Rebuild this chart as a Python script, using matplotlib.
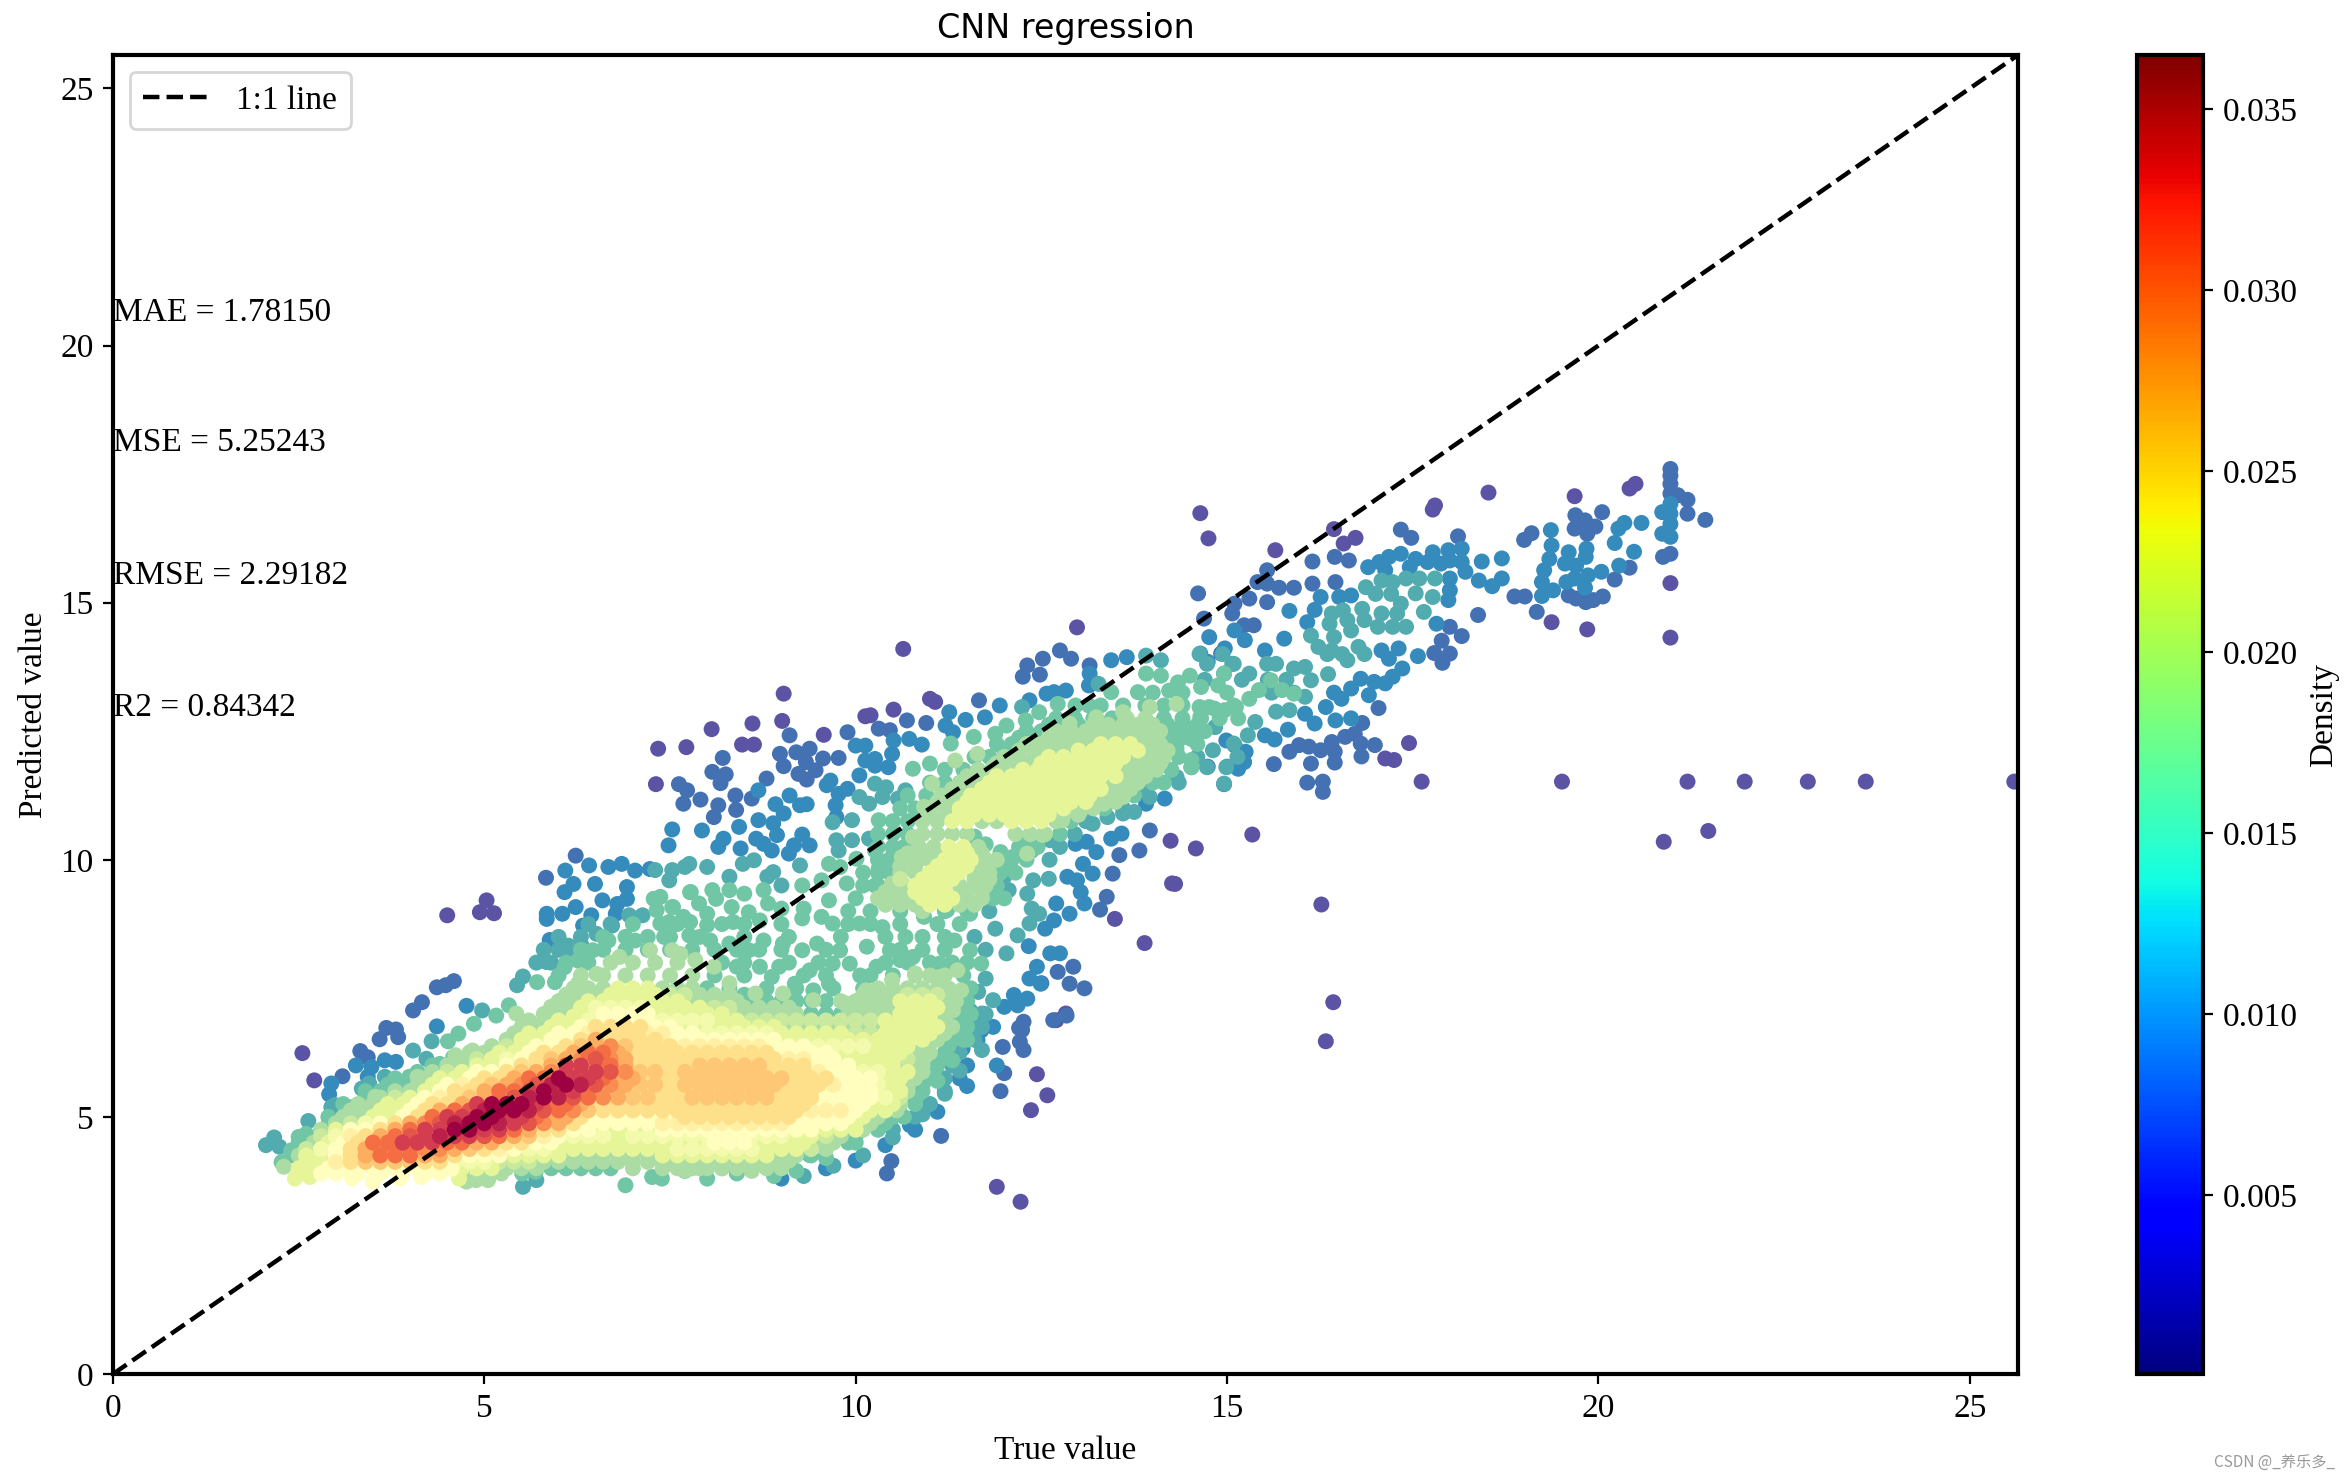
#!/usr/bin/env python3
"""CNN regression: true vs predicted scatter, coloured by density."""

import numpy as np
import matplotlib
matplotlib.use("Agg")
import matplotlib.pyplot as plt
from matplotlib.cm import ScalarMappable
from matplotlib.colors import Normalize

# ── Data, one list per density level ──
DENS_MIN = 0.00005
DENS_MAX = 0.0365

# 0-12 run low to high, 13-19 are the in-between shades
level_density = [0.0004, 0.0022, 0.0040, 0.0060, 0.0080, 0.0110, 0.0146, 0.0183, 0.0220, 0.0256, 0.0293, 0.0329, 0.0366,
                 0.0238, 0.0165, 0.0128, 0.0201, 0.0275, 0.0311, 0.0347]

pts_0 = [(25.6,11.52),(23.6,11.52),(22.82,11.52),(21.97,11.52),(21.2,11.52),(19.51,11.52),(17.62,11.52),(21.48,10.56),(20.88,10.35),
    (15.34,10.49),(20.97,14.32),(20.97,15.38),(19.85,14.48),(19.37,14.62),(18.52,17.14),(19.68,17.07),(20.42,17.22),(20.5,17.31),
    (17.8,16.89),(17.77,16.81),(14.64,16.74),(14.75,16.25),(15.65,16.02),(16.44,16.43),(16.73,16.26),(16.57,16.15),(17.45,12.27),
    (17.25,11.94),(17.13,11.97),(16.27,9.13),(16.43,7.23),(16.33,6.47),(14.3,9.53),(13.89,8.38),(14.58,10.22),(14.26,9.54),(14.24,10.37),
    (11.9,3.64),(12.22,3.35),(12.44,5.83),(12.58,5.42),(12.36,5.13),(4.5,8.92),(5.03,9.21),(4.94,8.98),(5.13,8.96),(2.55,6.24),(9.03,13.23),
    (10.64,14.1),(12.98,14.52),(7.34,12.16),(7.72,12.19),(8.06,12.54),(8.61,12.65),(8.47,12.24),(8.63,12.24),(9.01,12.7),(9.57,12.43),
    (11.0,13.13),(11.07,13.07),(10.51,12.92),(10.13,12.79),(10.2,12.81),(7.31,11.47),(2.71,5.71),(13.49,8.85),(12.7,6.88),(12.83,7.01)]

pts_1 = [(20.97,17.6),(20.97,17.47),(20.97,17.31),(20.97,17.12),(20.97,15.95),(20.87,15.89),(21.2,17.0),(21.07,17.09),(21.2,16.73),(21.44,16.61),
    (19.69,16.7),(19.82,16.6),(19.96,16.48),(19.68,16.44),(19.85,16.34),(19.1,16.35),(19.0,16.22),(19.6,15.14),(19.7,15.08),(19.83,15.01),
    (19.93,15.05),(20.06,15.12),(19.17,14.82),(19.01,15.12),(18.87,15.12),(18.38,14.76),(20.05,16.76),(20.22,15.45),(20.42,15.68),
    (17.34,16.42),(17.48,16.26),(18.11,16.29),(16.15,15.8),(16.45,15.89),(16.64,15.82),(15.41,15.4),(15.54,15.63),(15.54,15.37),(15.7,15.29),
    (15.9,15.29),(15.54,15.01),(15.3,15.08),(15.1,14.98),(15.07,14.79),(15.36,14.56),(15.23,14.56),(14.61,15.18),(14.69,14.69),(14.92,14.01),
    (16.15,15.37),(16.46,15.4),(18.0,14.53),(18.16,14.35),(17.89,14.26),(17.79,14.02),(18.0,14.01),(17.9,13.83),(17.04,12.95),(16.82,12.66),
    (16.72,12.45),(16.59,12.39),(16.41,12.29),(16.8,12.26),(16.99,12.23),(16.45,12.1),(16.81,12.01),(16.45,11.89),(16.13,11.87),(16.26,12.13),
    (16.1,12.2),(15.97,12.23),(15.84,12.1),(16.29,11.32),(16.29,11.52),(16.08,11.5),(14.96,11.47),(15.63,11.86),(14.74,11.81),
    (8.21,11.98),(9.11,12.42),(9.89,12.48),(8.98,12.06),(9.2,12.09),(9.38,12.16),(9.03,11.82),(9.33,11.9),(9.56,11.97),(9.77,11.98),(8.07,11.71),
    (8.25,11.66),(8.18,11.49),(7.62,11.47),(7.73,11.35),(8.8,11.58),(9.23,11.67),(9.34,11.56),(9.46,11.74),(8.38,11.25),(8.6,11.19),(7.91,11.17),
    (7.68,11.09),(8.15,11.06),(8.09,10.83),(8.39,10.97),(10.31,12.55),(10.46,12.52),(10.69,12.71),(10.95,12.66),(11.66,13.1),(12.31,13.78),
    (12.52,13.91),(12.25,13.56),(12.48,13.6),(12.75,14.07),(12.9,13.91),(13.15,13.78),(4.59,7.64),(4.48,7.56),(4.36,7.52),(4.16,7.23),(4.04,7.07),
    (3.68,6.73),(3.81,6.7),(3.84,6.55),(3.59,6.51),(3.33,6.28),(3.43,6.16),(3.09,5.79),(5.83,9.65),(6.23,10.08),(12.26,6.85),(12.24,6.69),(12.21,6.46),
    (11.98,6.36),(13.08,7.5),(12.88,7.59),(12.93,7.92),(13.29,9.03),(13.38,9.28),(13.46,9.73),(13.55,10.09),(13.82,10.18),(13.96,10.57),(12.72,7.82),
    (11.15,4.63),(10.42,3.9),(10.48,4.14),(12.26,6.3),(12.2,6.73),(12.66,6.88),(12.84,6.97),(12.5,7.6),(11.95,5.5),(12.0,5.85)]

pts_2 = [(20.97,16.92),(20.97,16.73),(20.97,16.53),(20.97,16.28),(20.86,16.34),(20.86,16.76),(20.58,16.55),(20.35,16.55),(20.27,16.44),(20.22,16.16),
    (20.48,15.99),(20.28,15.72),(19.84,16.05),(19.83,15.89),(19.7,15.72),(19.86,15.53),(19.68,15.47),(19.57,15.4),(19.82,15.29),(20.04,15.6),(19.55,15.76),
    (19.6,15.98),(19.37,16.11),(19.36,16.41),(19.34,15.85),(19.27,15.63),(19.24,15.4),(19.39,15.24),(19.24,15.13),(18.7,15.47),(18.57,15.32),(18.7,15.86),
    (18.43,15.8),(18.39,15.43),(18.16,16.05),(17.98,16.02),(17.77,15.98),(18.16,15.79),(18.21,15.6),(18.0,15.82),(17.88,15.76),(17.7,15.79),(17.54,15.85),
    (17.34,15.95),(17.18,15.89),(17.05,15.79),(16.9,15.69),(17.13,15.63),(17.46,15.69),(18.0,15.47),(18.0,15.24),(17.98,15.05),(16.67,15.14),(16.51,15.11),
    (16.26,15.11),(16.18,14.86),(16.08,14.62),(15.84,14.84),(15.77,14.3),(15.51,14.07),(14.76,14.33),(14.97,14.11),(14.64,14.01),(14.74,13.85),(15.1,14.46),
    (15.24,14.27),(14.96,13.62),(17.82,14.59),(17.57,13.96),(17.31,14.11),(17.08,14.07),(17.18,13.91),(17.36,13.72),(17.23,13.56),(17.13,13.43),(16.98,13.46),
    (16.8,13.52),(16.67,13.33),(16.91,13.2),(16.54,13.13),(16.44,13.25),(16.67,12.75),(16.46,12.71),(16.33,12.97),(16.18,12.65),(16.05,12.84),(15.82,12.53),
    (15.64,12.34),(15.25,12.1),(15.23,11.9),(15.15,11.77),(15.0,11.81),(15.1,12.23),(14.99,12.32),(15.51,12.42),
    (8.69,11.35),(8.92,11.08),(9.03,10.9),(9.11,11.25),(9.25,11.06),(9.34,11.08),(9.61,11.45),(9.66,11.54),(9.89,11.38),(9.77,11.28),(9.73,11.06),(9.74,10.83),
    (7.53,10.59),(7.48,10.28),(7.93,10.57),(8.43,10.64),(8.69,10.77),(8.89,10.71),(8.22,10.41),(8.66,10.41),(8.94,10.48),(9.28,10.49),(9.17,10.28),(9.38,10.28),
    (9.1,10.12),(8.87,10.18),(8.76,10.31),(8.45,10.22),(8.15,10.25),(10.05,11.64),(10.26,11.83),(10.13,11.93),(10.49,12.06),(10.51,12.32),(10.26,11.96),(10.13,12.22),
    (10.0,12.22),(10.44,11.8),(10.72,12.35),(10.89,12.24),(11.26,12.87),(11.21,12.61),(11.31,12.48),(11.94,13.0),(11.48,12.72),(11.74,12.77),(13.15,13.62),(13.44,13.88),
    (13.65,13.94),(12.67,13.26),(12.83,13.29),(12.57,13.23),(12.34,13.1),(13.14,13.39),(13.08,9.15),(12.88,8.95),(12.67,8.82),(12.55,8.66),(12.7,9.15),(13.03,9.37),
    (12.98,9.6),(12.85,9.67),(13.19,9.73),(13.06,9.92),(13.24,10.15),(13.11,10.35),(12.96,10.31),(13.44,10.41),(13.58,10.51),(14.16,11.19),(13.91,11.09),
    (12.62,8.18),(12.75,8.18),(12.44,7.92),(12.34,7.69),(12.49,7.59),(12.33,8.32),(11.85,6.75),(11.64,6.49),(11.44,6.33),(12.0,7.14),(12.18,7.17),(12.31,7.3),(12.13,7.37),
    (2.94,5.65),(2.91,5.44),(3.27,6.0),(3.48,5.97),(3.66,6.1),(3.43,5.78),(3.81,6.07),(4.36,6.76),(4.76,7.16),(5.88,8.44),(5.84,8.95),(5.84,8.85),(6.05,8.95),(6.33,8.72),
    (6.23,9.08),(6.08,9.37),(6.2,9.53),(6.09,9.79),(6.41,9.89),(6.49,9.53),(6.67,9.86),(6.85,9.92),(7.03,9.79),(7.23,9.82),(6.79,9.14),(6.59,9.21),(6.92,9.24),(6.44,8.92),
    (6.77,8.95),(6.92,9.47),(9.0,3.8),(9.6,4.0),(10.0,4.15),(10.4,4.45),(10.8,4.75),(11.1,5.1),(11.5,5.6),(11.9,6.0),(10.73,4.84),(10.58,5.19),(10.89,5.71),(11.35,6.3),(11.69,6.68)]

pts_3 = [(16.62,14.66),(16.85,14.66),(17.03,14.53),(17.41,14.53),(17.23,14.53),(17.29,14.79),(17.08,14.79),(16.82,14.88),(16.56,14.85),(16.41,14.79),(16.38,14.59),
    (17.65,14.82),(17.34,14.98),(17.54,15.18),(17.21,15.17),(17.0,15.17),(16.87,15.3),(17.23,15.4),(17.08,15.43),(17.41,15.47),(17.59,15.47),(17.8,15.47),(17.77,15.11),
    (16.67,14.46),(16.77,14.14),(16.62,13.88),(16.41,14.07),(16.23,14.14),(16.13,14.36),(16.44,14.33),(16.36,13.61),(16.05,13.75),(15.9,13.72),(15.66,13.81),(15.54,13.81),
    (15.07,13.81),(15.3,13.62),(16.13,13.49),(16.05,13.17),(15.84,12.91),(15.66,12.88),(15.38,12.68),(15.28,12.42),(14.84,12.58),(14.81,12.13),(15.09,12.26),(15.14,12.0),
    (14.99,11.8),(14.73,11.8),(14.52,11.8),(14.96,11.48),(14.32,11.61),(13.96,11.22),(13.8,11.38),(13.91,11.51),(13.75,10.93),(13.6,10.9),(13.39,10.83),(13.19,10.7),
    (12.62,10.38),(12.37,10.18),(12.61,10.0),(12.6,9.63),(12.39,9.6),(12.31,9.34),(12.37,9.05),(12.47,8.95),(12.34,8.76),(12.18,8.53),(11.88,8.66),(12.03,8.18),(12.0,9.67),
    (12.06,9.41),(11.75,9.54),(11.85,7.27),(11.7,7.01),(11.54,7.07),(11.59,6.75),(11.65,7.43),(11.75,7.69),
    (14.63,14.0),(14.94,14.0),(14.73,13.81),(15.09,13.81),(13.91,13.97),(14.11,13.88),(13.27,13.42),(12.24,12.97),
    (9.69,10.73),(9.74,10.38),(9.77,10.18),(9.25,9.89),(7.3,9.8),(7.53,9.8),(7.76,9.92),(8.0,9.86),(8.3,9.67),(8.48,9.92),(8.63,9.99),(8.89,9.76),(8.81,9.67),(9.0,9.5),
    (7.49,9.6),(7.7,9.86),(9.95,10.77),(10.05,11.22),(10.18,11.09),(10.36,11.22),(10.57,11.19),(10.67,11.35),(10.26,11.48),(10.41,11.41),(9.95,10.38),(10.18,10.41),
    (2.17,4.6),(2.06,4.45),(2.24,4.42),(2.63,4.92),(2.99,5.23),(2.94,5.19),(3.35,5.55),(3.45,5.65),(3.66,5.78),(4.04,6.29),(4.29,6.47),(4.97,7.07),(5.52,7.73),(5.44,7.56),
    (5.84,8.01),(6.13,8.33),(6.31,8.33),(6.15,8.17),(6.51,8.56),(6.72,8.72),(6.95,8.92),(7.13,8.92),(5.52,3.64),(5.7,3.77),(4.22,6.13),(9.38,4.26),(9.3,3.85),(9.7,4.05),
    (10.1,4.25),(10.5,4.6),(10.9,5.05),(11.2,5.45),(11.4,5.9),(11.7,6.3)]

pts_4 = [(15.9,13.23),(15.74,13.3),(15.59,13.49),(15.43,13.3),(15.3,13.13),(15.12,12.97),(14.97,12.91),(14.76,12.97),(14.64,12.78),(14.52,11.94),(14.52,11.8),
    (10.77,11.77),(11.0,11.87),(11.28,12.26),(11.59,12.39),(11.88,12.45),(12.03,12.61),(12.29,12.71),(12.47,12.87),(12.72,13.03),(12.96,13.0),(13.14,13.0),(13.44,13.26),
    (13.8,13.26),(14.22,13.29),(14.34,13.45),(14.5,13.58),(14.65,13.36),(14.88,13.39),(14.96,13.62),(15.09,13.0),(14.83,12.94),(14.63,12.97),(13.91,13.62),(14.11,13.58),
    (10.51,10.18),(10.26,10.18),(10.01,10.02),(9.79,9.86),(9.64,9.92),(9.54,9.6),(10.31,10.77),(10.31,9.83),(9.88,9.54),(10.26,9.5),(9.28,9.5),(8.76,9.41),(8.5,9.34),
    (8.3,9.41),(8.07,9.41),(7.78,9.37),(7.37,9.28),(8.12,9.24),(7.89,9.15),(7.53,9.08),(7.32,9.02),(7.68,8.89),(8.0,8.95),(8.33,9.08),(8.56,8.98),(8.82,9.15),(9.0,9.05),
    (9.3,9.05),(9.64,9.21),(7.37,8.76),(8.0,8.73),(8.35,8.79),(8.71,8.82),(9.28,8.86),(9.54,8.89),(9.69,8.76),(10.05,8.76),(10.36,8.69),(10.67,8.5),(10.92,8.89),(11.23,9.02),
    (11.54,8.95),(11.69,7.98),(11.33,8.43),(11.54,8.24),(10.15,8.31),(10.46,8.24),(10.77,8.11),(9.79,8.24),(9.92,7.98),(9.69,7.98),(9.48,8.37),(9.28,8.24),(9.02,8.37),
    (8.76,8.43),(8.56,8.24),(8.4,7.92),(8.71,7.92),(8.97,7.92),(9.38,7.85),(9.64,7.59),(9.43,7.46),(9.18,7.59),(8.87,7.72),(10.06,7.75),(10.28,7.92),(10.6,8.05),(11.13,7.98),
    (7.76,8.53),(8.04,8.43),(8.3,8.37),(7.42,8.5),(12.37,10.18),(12.0,9.92),(11.72,9.67),(14.42,12.61),(14.52,12.35),(14.32,12.16),
    (2.5,4.61),(2.6,4.67),(2.27,4.12),(2.4,4.35),(2.91,4.9),(3.22,5.19),(3.48,5.39),(3.73,5.58),(3.99,5.78),(4.4,6.03),(4.58,6.16),(4.51,6.47),(4.65,6.62),(4.86,6.81),(5.16,6.97),
    (5.33,7.17),(5.71,7.62),(5.95,7.62),(6.08,7.91),(6.26,8.04),(6.46,8.24),(6.67,8.43),(7.03,8.43),(7.28,9.24),(7.54,9.08),(7.77,9.37),(7.49,8.79),(7.77,8.79),
    (6.9,3.67),(5.95,4.06),(6.08,4.09),(6.2,4.16),(6.54,4.16),(5.51,3.9),(5.69,3.93),(7.26,3.83),(7.39,3.8),(7.7,3.95),(8.0,3.8),(8.4,3.9),(8.9,3.85),
    (9.2,3.95),(9.6,4.2),(10.0,4.5),(10.4,4.9),(10.8,5.3),(11.1,5.7),(11.3,6.1),(11.5,6.5),(11.9,9.95),(12.1,10.05),(11.6,10.45),(12.25,10.4),(11.95,10.15),(11.75,10.3)]

pts_5 = [(11.34,11.93),(11.64,12.06),(12.36,12.26),(12.62,12.45),(12.88,12.65),(13.24,12.77),(13.6,12.87),(13.96,12.97),(14.32,13.03),(14.06,11.93),(13.86,11.61),(13.6,11.22),
    (13.34,11.09),(13.03,10.96),(12.78,10.77),(12.52,10.48),(12.31,10.12),(11.42,9.41),(10.8,9.15),(10.49,9.54),(11.03,11.48),(10.92,11.03),(10.77,10.44),(10.62,10.05),
    (11.23,11.03),(11.54,11.61),(11.85,11.8),(12.16,11.93),(7.53,8.24),(7.84,8.05),(8.09,7.92),(8.3,7.6),(8.65,7.4),(9.02,7.4),(9.43,7.27),(9.88,7.2),(10.14,7.46),(10.49,7.66),
    (10.8,7.79),(11.13,7.72),(11.37,7.85),(11.42,7.46),(11.31,7.07),(2.3,4.03),(2.6,4.35),(3.17,5.0),(3.53,5.39),(4.1,5.78),(4.61,6.2),(4.84,6.29),(5.43,7.01),(5.9,7.14),
    (6.26,7.59),(6.51,7.78),(6.82,8.11),(7.23,8.24),(7.64,8.17),(4.76,3.74),(4.89,3.77),(5.05,3.77),(5.23,3.9),(5.51,4.03),(6.92,4.22),(7.7,3.96),(6.31,4.29),(6.72,4.42),
    (7.13,4.35),(7.44,4.16),(7.9,4.0),(8.2,4.0),(8.6,3.95),(9.1,4.15),(9.4,4.4),(9.8,4.7),(10.2,5.2),(10.6,5.7),(10.9,6.2),(11.2,6.8)]

pts_6 = [(2.45,3.8),(2.65,3.83),(4.66,3.8)]

pts_7 = [(2.96,3.96),(3.22,3.8),(3.5,3.74),(3.86,3.8),(4.15,3.83),(4.56,3.99)]

levels = [pts_0, pts_1, pts_2, pts_3, pts_4, pts_5, pts_6, pts_7]

# dense part of the cloud, read row by row: (y, level, x values)
rows_low = [
    (3.9,7,[2.8,3.0,3.3,3.6,3.9,4.2,4.4]),(3.9,5,[4.7,5.0]),
    (4.0,6,[2.5,2.7]),(4.0,7,[2.9,3.1,3.3,3.5,3.7,3.9,4.1,4.3,4.5]),(4.0,6,[4.7,4.9,5.1]),(4.0,5,[5.3,5.5,5.7]),(4.0,4,[5.9,6.1,6.3,6.5,6.7]),(4.0,5,[7.0,7.4,7.6,7.8,8.0,8.2,8.4,8.6,8.8,9.0]),
    (4.25,4,[2.4]),(4.25,5,[2.5]),(4.25,6,[2.6,2.8]),(4.25,7,[3.0]),(4.25,8,[3.2]),(4.25,9,[3.4]),(4.25,10,[3.6,3.8,4.0]),(4.25,9,[4.2,4.4]),(4.25,8,[4.6]),(4.25,7,[4.8,5.0,5.2]),(4.25,6,[5.4,5.6,5.8,6.0]),(4.25,5,[6.2,6.4,6.6,6.8,7.0,7.2]),(4.25,6,[7.4,7.6,7.8,8.0,8.2,8.4,8.6,8.8]),(4.25,5,[9.0,9.2]),(4.25,4,[9.4]),
    (4.5,4,[2.5]),(4.5,5,[2.7]),(4.5,6,[2.9]),(4.5,7,[3.1]),(4.5,8,[3.3]),(4.5,10,[3.5,3.7]),(4.5,11,[3.9,4.1,4.3]),(4.5,10,[4.5,4.7]),(4.5,9,[4.9,5.1]),(4.5,8,[5.3,5.5]),(4.5,7,[5.7,5.9]),(4.5,6,[6.1,6.3,6.5,6.7,6.9,7.1,7.3,7.5,7.7,7.9]),(4.5,7,[8.1,8.3,8.5]),(4.5,6,[8.7,8.9,9.1,9.3]),(4.5,5,[9.5,9.7]),(4.5,4,[9.9]),
    (4.75,5,[2.8]),(4.75,6,[3.0]),(4.75,7,[3.2,3.4]),(4.75,8,[3.6]),(4.75,9,[3.8]),(4.75,10,[4.0]),(4.75,11,[4.2,4.4]),(4.75,12,[4.6,4.8]),(4.75,11,[5.0,5.2]),(4.75,10,[5.4]),(4.75,9,[5.6]),(4.75,8,[5.8,6.0]),(4.75,7,[6.2,6.4]),(4.75,6,[6.6,6.8,7.0,7.2]),(4.75,7,[7.4,7.6,7.8,8.0,8.2,8.4,8.6,8.8,9.0,9.2,9.4]),(4.75,6,[9.6,9.8,10.0]),(4.75,5,[10.1]),(4.75,4,[10.3]),(4.75,3,[10.5]),
    (5.0,4,[2.9]),(5.0,5,[3.1,3.3]),(5.0,6,[3.5,3.7]),(5.0,7,[3.9]),(5.0,8,[4.1]),(5.0,10,[4.3]),(5.0,11,[4.5,4.7]),(5.0,12,[4.9,5.1]),(5.0,11,[5.3,5.5]),(5.0,10,[5.7]),(5.0,9,[5.9,6.1]),(5.0,8,[6.3]),(5.0,7,[6.5,6.7,6.9,7.1,7.3,7.5]),(5.0,8,[7.7,7.9,8.1,8.3,8.5,8.7,8.9,9.1]),(5.0,7,[9.3,9.5,9.7,9.9]),(5.0,6,[10.1]),(5.0,5,[10.3]),(5.0,4,[10.5,10.65]),(5.0,3,[10.8]),
    (5.25,4,[3.1]),(5.25,5,[3.3,3.5]),(5.25,6,[3.7,3.9]),(5.25,7,[4.1]),(5.25,8,[4.3,4.5]),(5.25,9,[4.7]),(5.25,11,[4.9]),(5.25,12,[5.1,5.3,5.5]),(5.25,11,[5.7]),(5.25,10,[5.9,6.1]),(5.25,9,[6.3]),(5.25,8,[6.5,6.7,6.9,7.1,7.3,7.5,7.7,7.9,8.1,8.3,8.5,8.7,8.9,9.1,9.3]),(5.25,7,[9.5,9.7,9.9,10.1]),(5.25,6,[10.3,10.5]),(5.25,5,[10.6]),(5.25,4,[10.8]),(5.25,3,[11.0]),
    (5.5,4,[3.4,3.6]),(5.5,5,[3.8,4.0]),(5.5,6,[4.2]),(5.5,7,[4.4]),(5.5,8,[4.6,4.8]),(5.5,9,[5.0]),(5.5,10,[5.2,5.4]),(5.5,11,[5.6]),(5.5,12,[5.8]),(5.5,11,[6.0,6.2]),(5.5,10,[6.4]),(5.5,9,[6.6,6.8]),(5.5,8,[7.0,7.2,7.4,7.6,7.8]),(5.5,13,[8.0,8.2,8.4,8.6,8.8]),(5.5,8,[9.0,9.2,9.4]),(5.5,7,[9.6,9.8,10.0,10.2]),(5.5,6,[10.4,10.6]),(5.5,5,[10.7]),(5.5,4,[10.9]),(5.5,3,[11.2]),
    (5.75,4,[3.8,4.0]),(5.75,5,[4.2]),(5.75,6,[4.4,4.6]),(5.75,7,[4.8]),(5.75,8,[5.0,5.2]),(5.75,9,[5.4]),(5.75,10,[5.6,5.8]),(5.75,12,[6.0]),(5.75,11,[6.2,6.4]),(5.75,10,[6.6]),(5.75,9,[6.8,7.0]),(5.75,8,[7.2,7.4,7.6]),(5.75,13,[7.8,8.0,8.2,8.4,8.6,8.8,9.0]),(5.75,8,[9.2,9.4,9.6]),(5.75,7,[9.8,10.0,10.2]),(5.75,6,[10.4,10.6]),(5.75,5,[10.8]),(5.75,4,[11.0]),(5.75,3,[11.2]),(5.75,2,[11.4]),
    (6.0,4,[4.3]),(6.0,5,[4.5,4.7]),(6.0,6,[4.9,5.1]),(6.0,7,[5.3]),(6.0,8,[5.5,5.7]),(6.0,9,[5.9]),(6.0,11,[6.1,6.3]),(6.0,10,[6.5,6.7]),(6.0,9,[6.9]),(6.0,8,[7.1,7.3,7.5,7.7]),(6.0,13,[7.9,8.1,8.3,8.5,8.7]),(6.0,8,[8.9,9.1,9.3]),(6.0,7,[9.5,9.7,9.9]),(6.0,6,[10.1,10.3,10.5]),(6.0,5,[10.7,10.9]),(6.0,4,[11.1]),(6.0,3,[11.3]),(6.0,2,[11.5]),
]

rows_high = [
    (6.25,5,[4.8,5.0]),(6.25,6,[5.2,5.4]),(6.25,7,[5.6]),(6.25,8,[5.8,6.0]),(6.25,9,[6.2]),(6.25,10,[6.4,6.6]),(6.25,9,[6.8]),(6.25,8,[7.0,7.2,7.4,7.6,7.8,8.0,8.2,8.4,8.6,8.8]),(6.25,7,[9.0,9.2,9.4,9.6]),(6.25,6,[9.8,10.0,10.2,10.4,10.6]),(6.25,5,[10.8,11.0]),(6.25,4,[11.2]),(6.25,3,[11.4]),
    (6.5,5,[5.3]),(6.5,6,[5.5,5.7]),(6.5,7,[5.9,6.1]),(6.5,8,[6.3]),(6.5,9,[6.5]),(6.5,8,[6.7,6.9,7.1,7.3]),(6.5,7,[7.5,7.7,7.9,8.1,8.3,8.5,8.7,8.9]),(6.5,6,[9.1,9.3,9.5,9.7,9.9,10.1,10.3,10.5,10.7,10.9]),(6.5,5,[11.1]),(6.5,4,[11.3,11.45]),(6.5,3,[11.6]),
    (6.75,5,[5.5,5.7]),(6.75,6,[5.9,6.1]),(6.75,7,[6.3]),(6.75,8,[6.5,6.7,6.9,7.1]),(6.75,7,[7.3,7.5]),(6.75,6,[7.7,7.9,8.1,8.3,8.5,8.7,8.9]),(6.75,5,[9.1,9.3,9.5,9.7,9.9,10.1,10.3]),(6.75,6,[10.5,10.7,10.9,11.1]),(6.75,5,[11.3]),(6.75,4,[11.5]),(6.75,3,[11.7]),
    (7.0,5,[5.8,6.0]),(6.95,6,[6.2,6.4]),(7.0,7,[6.6,6.8,7.0,7.2]),(7.0,6,[7.4,7.6,7.8,8.0,8.2]),(7.0,5,[8.4,8.6,8.8,9.0,9.2]),(7.0,4,[9.4,9.6,9.8]),(7.0,5,[10.0,10.2,10.4]),(7.0,6,[10.6,10.8,11.0]),(7.0,5,[11.2]),(7.0,4,[11.4,11.55]),(7.0,3,[11.75]),
    (7.25,5,[6.0,6.2]),(7.25,6,[6.4,6.6,6.8,7.0,7.2,7.4,7.6]),(7.25,5,[7.8,8.0,8.2,8.4]),(7.25,4,[8.6,8.8,9.0,9.2,9.4,9.6]),(7.25,5,[9.8,10.0,10.2,10.4]),(7.25,6,[10.6,10.8,11.0]),(7.25,5,[11.2,11.35]),(7.25,4,[11.5]),
    (7.5,5,[6.2,6.4,6.6]),(7.5,6,[6.8,7.0,7.2]),(7.5,5,[7.4,7.6,7.8]),(7.5,4,[8.0,8.3,8.8,9.2,9.7,10.1]),(7.5,5,[10.3,10.5,10.7,10.9,11.1]),(7.5,5,[11.25]),(7.5,4,[11.55]),
    (7.75,4,[6.0]),(7.75,5,[6.3,6.6,6.9,7.2,7.5,7.8]),(7.75,4,[8.1,8.5,9.3,9.6,10.2,10.5]),(7.75,5,[10.8,11.0,11.2]),(7.75,4,[11.45]),
    (8.0,3,[5.7,5.9]),(8.0,4,[6.1,6.4]),(8.0,5,[6.7,7.0,7.3,7.6]),(8.0,4,[8.2,8.5,9.1,9.5,10.4,10.7,11.0,11.3,11.5]),
    (8.25,3,[5.8,6.0]),(8.25,4,[6.3,6.6,6.9,7.2,7.5,7.8,8.1,8.4,8.7,9.0,9.6,10.6,10.9,11.2]),(8.25,3,[11.75]),
    (8.5,3,[6.0,6.3]),(8.5,4,[6.6,6.9,7.2,7.5,7.9,8.5,9.1,9.8,10.4,10.9,11.2]),(8.5,3,[11.6]),
    (8.75,3,[6.4,6.7]),(8.75,4,[7.0,7.6,8.2,8.5,9.0,9.9,10.2,10.6,11.1,11.4]),
    (9.0,4,[9.9,10.2,10.6]),(9.0,5,[10.9]),(9.0,4,[11.2,11.5]),(9.0,3,[11.8]),
    (9.25,4,[10.0]),(9.25,5,[10.3,10.5,10.7]),(9.25,6,[10.9,11.1,11.3]),(9.25,5,[11.5,11.7]),(9.25,4,[11.85,12.0]),
    (9.5,4,[10.1,10.3]),(9.5,5,[10.5,10.65]),(9.5,6,[10.8,11.0,11.2]),(9.5,5,[11.4,11.6,11.75]),(9.5,4,[11.9]),
    (9.75,4,[10.1,10.3,10.45]),(9.75,5,[10.6,10.8]),(9.75,6,[11.0,11.2,11.4]),(9.75,5,[11.6,11.8]),(9.75,4,[11.95,12.15]),
    (10.0,4,[10.3,10.45]),(10.0,5,[10.65,10.85,11.0]),(10.0,6,[11.2,11.4,11.55]),(10.0,5,[11.75,11.9]),(10.0,4,[12.1,12.3]),
    (10.25,4,[10.3,10.5,10.65]),(10.25,5,[10.85,11.05]),(10.25,6,[11.25,11.45]),(10.25,5,[11.65]),(10.25,4,[12.2,12.45]),(10.25,3,[12.75]),
    (10.5,4,[10.3,10.5,10.7]),(10.5,5,[10.9,11.1,11.3,11.5]),(10.5,5,[12.15,12.35,12.55]),(10.5,4,[12.75]),(10.5,3,[12.95]),
    (10.75,4,[10.5,10.7]),(10.75,5,[10.9,11.1]),(10.75,6,[11.3,11.5]),(10.75,5,[11.7,11.9]),(10.75,6,[12.1,12.3,12.5]),(10.75,5,[12.7]),(10.75,4,[12.9]),(10.75,3,[13.1]),
    (11.0,4,[10.6,10.8]),(11.0,5,[11.0,11.2]),(11.0,6,[11.4,11.6,11.8,12.0,12.2,12.4,12.6,12.8]),(11.0,5,[13.0,13.2]),(11.0,4,[13.35]),(11.0,3,[13.6]),
    (11.25,4,[10.7,10.95]),(11.25,5,[11.15,11.35]),(11.25,6,[11.55,11.75,11.95,12.15,12.35,12.55,12.75,12.95,13.15]),(11.25,5,[13.35,13.55]),(11.25,4,[13.75]),
    (11.5,4,[11.0,11.2]),(11.5,5,[11.4,11.6]),(11.5,6,[11.8,12.0,12.2,12.4,12.6,12.8,13.0,13.2]),(11.5,5,[13.4,13.6,13.8]),(11.5,4,[14.0,14.15]),(11.5,3,[14.35]),
    (11.75,4,[11.2,11.45]),(11.75,5,[11.65,11.85,12.05]),(11.75,6,[12.25,12.45,12.65,12.85,13.05,13.25,13.45]),(11.75,5,[13.65,13.85,14.05]),(11.75,4,[14.25]),
    (12.0,4,[11.6,11.8]),(12.0,5,[12.0,12.2,12.4]),(12.0,6,[12.6,12.8,13.0,13.2,13.4,13.6]),(12.0,5,[13.8,14.0,14.15]),(12.0,4,[14.35]),(12.0,3,[14.6]),
    (12.25,4,[11.9,12.1]),(12.25,5,[12.3,12.5,12.7,12.9,13.1]),(12.25,6,[13.3,13.5,13.7]),(12.25,5,[13.9,14.1]),(12.25,4,[14.3,14.6]),
    (12.5,4,[12.3,12.5]),(12.5,5,[12.7,12.9,13.1,13.3,13.5,13.7,13.9,14.1]),(12.5,4,[14.3,14.5,14.7]),
    (12.75,4,[12.7,12.95,13.2,13.45]),(12.75,5,[13.65,13.9]),(12.75,4,[14.15,14.4,14.65,14.9,15.15]),
    (13.0,4,[13.3,13.6,13.9,14.15,14.4]),(13.25,4,[14.0,14.4,15.0]),(13.25,3,[15.6,15.9]),(13.5,3,[14.7,15.2,15.55,15.8]),(14.0,3,[16.35,16.55,16.85]),
]

rows_mid = [
    (4.125,6,[2.6,2.8]),(4.125,16,[3.0]),(4.125,8,[3.2]),(4.125,13,[3.4,3.6,3.8,4.0]),(4.125,8,[4.2,4.4]),(4.125,14,[4.6,4.8,5.0]),(4.125,15,[5.2,5.4,5.6]),(4.125,5,[5.8,6.0,6.2,6.4,6.6,6.8,7.0,7.2,7.4,7.6,7.8,8.0,8.2,8.4,8.6,8.8,9.0]),
    (4.375,15,[2.6]),(4.375,14,[2.8]),(4.375,7,[3.0]),(4.375,8,[3.2]),(4.375,9,[3.4]),(4.375,17,[3.6]),(4.375,10,[3.8,4.0]),(4.375,17,[4.2,4.4]),(4.375,9,[4.6]),(4.375,13,[4.8]),(4.375,8,[5.0]),(4.375,16,[5.2]),(4.375,7,[5.4]),(4.375,14,[5.6,5.8]),(4.375,6,[6.0,6.2,6.4,6.6,6.8,7.0,7.2,7.4]),(4.375,14,[7.6,7.8,8.0,8.2,8.4,8.6]),(4.375,6,[8.8,9.0,9.2]),(4.375,15,[9.4]),(4.375,5,[9.6]),
    (4.625,15,[2.8]),(4.625,14,[3.0]),(4.625,16,[3.2]),(4.625,8,[3.4]),(4.625,9,[3.6]),(4.625,10,[3.8]),(4.625,18,[4.0]),(4.625,11,[4.2]),(4.625,19,[4.4]),(4.625,11,[4.6,4.8]),(4.625,18,[5.0]),(4.625,10,[5.2]),(4.625,9,[5.4]),(4.625,13,[5.6]),(4.625,16,[5.8]),(4.625,7,[6.0]),(4.625,14,[6.2,6.4,6.6]),(4.625,6,[6.8]),(4.625,14,[7.0,7.2,7.4,7.6,7.8,8.0,8.2,8.4,8.6,8.8,9.0]),(4.625,6,[9.2,9.4]),(4.625,15,[9.6]),(4.625,5,[9.8]),(4.625,4,[10.0]),
    (4.875,5,[3.0]),(4.875,15,[3.2]),(4.875,14,[3.4]),(4.875,7,[3.6]),(4.875,8,[3.8]),(4.875,9,[4.0]),(4.875,17,[4.2]),(4.875,18,[4.4]),(4.875,19,[4.6]),(4.875,12,[4.8,5.0]),(4.875,19,[5.2]),(4.875,11,[5.4]),(4.875,18,[5.6]),(4.875,17,[5.8]),(4.875,9,[6.0]),(4.875,8,[6.2]),(4.875,7,[6.4,6.6,6.8,7.0,7.2]),(4.875,16,[7.4,7.6,7.8,8.0,8.2,8.4,8.6,8.8,9.0]),(4.875,7,[9.2,9.4,9.6,9.8]),(4.875,6,[10.0]),(4.875,5,[10.2]),(4.875,4,[10.4]),
    (5.125,5,[3.2,3.4]),(5.125,6,[3.6,3.8]),(5.125,7,[4.0]),(5.125,8,[4.2]),(5.125,9,[4.4]),(5.125,10,[4.6]),(5.125,18,[4.8]),(5.125,19,[5.0]),(5.125,12,[5.2,5.4]),(5.125,19,[5.6]),(5.125,18,[5.8]),(5.125,10,[6.0]),(5.125,17,[6.2]),(5.125,13,[6.4]),(5.125,8,[6.6,6.8,7.0,7.2,7.4,7.6,7.8,8.0,8.2,8.4,8.6,8.8,9.0,9.2]),(5.125,16,[9.4,9.6,9.8]),(5.125,7,[10.0]),(5.125,6,[10.2,10.4]),(5.125,5,[10.55]),
    (5.375,4,[3.4]),(5.375,5,[3.6]),(5.375,15,[3.8]),(5.375,6,[4.0]),(5.375,7,[4.2]),(5.375,16,[4.4]),(5.375,8,[4.6]),(5.375,13,[4.8]),(5.375,9,[5.0]),(5.375,10,[5.2]),(5.375,18,[5.4]),(5.375,19,[5.6]),(5.375,12,[5.8]),(5.375,19,[6.0]),(5.375,18,[6.2]),(5.375,10,[6.4]),(5.375,17,[6.6]),(5.375,9,[6.8]),(5.375,13,[7.0,7.2]),(5.375,8,[7.4,7.6]),(5.375,13,[7.8,8.0,8.2,8.4,8.6,8.8]),(5.375,8,[9.0,9.2,9.4]),(5.375,7,[9.6,9.8,10.0,10.2]),(5.375,14,[10.4]),(5.375,15,[10.6]),(5.375,4,[10.8]),
    (5.625,4,[3.7,3.9]),(5.625,5,[4.1]),(5.625,6,[4.3]),(5.625,7,[4.5]),(5.625,16,[4.7]),(5.625,8,[4.9]),(5.625,13,[5.1]),(5.625,9,[5.3]),(5.625,17,[5.5]),(5.625,18,[5.7]),(5.625,19,[5.9]),(5.625,12,[6.1]),(5.625,19,[6.3]),(5.625,18,[6.5]),(5.625,17,[6.7]),(5.625,9,[6.9]),(5.625,13,[7.1,7.3]),(5.625,8,[7.5]),(5.625,13,[7.7,7.9,8.1,8.3,8.5,8.7,8.9]),(5.625,8,[9.1,9.3,9.5]),(5.625,16,[9.7]),(5.625,7,[9.9,10.1]),(5.625,14,[10.3]),(5.625,6,[10.5]),(5.625,5,[10.7]),(5.625,4,[10.9]),
    (5.875,4,[4.1]),(5.875,5,[4.3]),(5.875,15,[4.5]),(5.875,6,[4.7]),(5.875,7,[4.9,5.1]),(5.875,8,[5.3]),(5.875,13,[5.5]),(5.875,9,[5.7]),(5.875,17,[5.9]),(5.875,18,[6.1,6.3]),(5.875,11,[6.5]),(5.875,18,[6.7]),(5.875,17,[6.9]),(5.875,13,[7.1,7.3]),(5.875,8,[7.5]),(5.875,13,[7.7,7.9,8.1,8.3,8.5,8.7]),(5.875,8,[8.9,9.1,9.3]),(5.875,16,[9.5]),(5.875,7,[9.7,9.9]),(5.875,14,[10.1,10.3]),(5.875,6,[10.5,10.7]),(5.875,5,[10.9]),(5.875,4,[11.05]),
    (6.125,5,[4.7]),(6.125,15,[4.9]),(6.125,6,[5.1]),(6.125,14,[5.3]),(6.125,7,[5.5]),(6.125,8,[5.7]),(6.125,13,[5.9]),(6.125,9,[6.1]),(6.125,17,[6.3]),(6.125,18,[6.5]),(6.125,17,[6.7]),(6.125,9,[6.9]),(6.125,8,[7.1,7.3,7.5,7.7,7.9,8.1,8.3,8.5,8.7,8.9]),(6.125,16,[9.1,9.3]),(6.125,7,[9.5,9.7]),(6.125,6,[9.9,10.1,10.3,10.5]),(6.125,15,[10.7]),(6.125,5,[10.9]),(6.125,4,[11.15]),
    (6.375,5,[5.1]),(6.375,15,[5.3]),(6.375,6,[5.5]),(6.375,7,[5.7,5.9]),(6.375,8,[6.1]),(6.375,13,[6.3]),(6.375,9,[6.5]),(6.375,17,[6.7]),(6.375,13,[6.9]),(6.375,8,[7.1,7.3,7.5]),(6.375,16,[7.7,7.9,8.1,8.3,8.5,8.7]),(6.375,7,[8.9,9.1,9.3]),(6.375,14,[9.5,9.7,9.9,10.1]),(6.375,6,[10.3,10.5,10.7]),(6.375,5,[10.95]),(6.375,4,[11.25]),
    (6.625,5,[5.4]),(6.625,6,[5.6,5.8]),(6.625,7,[6.0,6.2]),(6.625,16,[6.4]),(6.625,8,[6.6,6.8,7.0]),(6.625,16,[7.2,7.4]),(6.625,7,[7.6,7.8]),(6.625,14,[8.0,8.2,8.4,8.6,8.8]),(6.625,6,[9.0,9.2,9.4,9.6,9.8]),(6.625,15,[10.0,10.2]),(6.625,6,[10.4,10.6,10.8,11.0]),(6.625,5,[11.2]),(6.625,4,[11.4]),
    (6.875,5,[5.6,5.8]),(6.875,6,[6.0,6.2]),(6.875,14,[6.4]),(6.875,7,[6.6,6.8,7.0,7.2]),(6.875,14,[7.4,7.6,7.8,8.0]),(6.875,6,[8.2,8.4]),(6.875,15,[8.6,8.8,9.0,9.2,9.4,9.6,9.8,10.0,10.2]),(6.875,6,[10.4,10.6,10.8,11.0]),(6.875,5,[11.2]),(6.875,4,[11.4]),
    (7.125,5,[5.9,6.1]),(7.125,6,[6.3]),(7.125,14,[6.5,6.7,6.9,7.1]),(7.125,6,[7.3,7.5,7.7,7.9]),(7.125,15,[8.1,8.3]),(7.125,5,[8.5,8.7,8.9,9.1,9.9,10.1,10.3,10.5]),(7.125,6,[10.7,10.9,11.1]),(7.125,5,[11.3]),
    (7.375,5,[6.1,6.3,6.5]),(7.375,6,[6.7,6.9,7.1,7.3]),(7.375,15,[7.5,7.7]),(7.375,5,[7.9,8.1,8.3]),(7.375,4,[8.5,8.7]),(7.375,5,[10.1,10.3,10.5]),(7.375,15,[10.7,10.9,11.1]),(7.375,5,[11.3]),
    (9.125,5,[10.4,10.6,10.8]),(9.125,6,[11.0,11.2]),(9.125,5,[11.4,11.6]),
    (9.375,5,[10.4,10.6]),(9.375,6,[10.8,11.0,11.2]),(9.375,5,[11.5,11.7]),
    (9.625,15,[10.6]),(9.625,6,[10.9,11.1,11.3]),(9.625,5,[11.6,11.8]),
    (9.875,5,[10.6,10.8]),(9.875,6,[11.1,11.3,11.5]),(9.875,5,[11.7]),(9.875,4,[12.0]),
    (10.125,5,[10.7,10.9,11.1]),(10.125,6,[11.3,11.5]),(10.125,5,[11.7]),
    (10.875,5,[11.0,11.2]),(10.875,6,[11.4,11.6,11.8,12.0,12.2,12.4,12.6]),(10.875,5,[12.8,13.0]),
    (11.125,5,[11.1,11.3]),(11.125,6,[11.5,11.7,11.9,12.1,12.3,12.5,12.7,12.9,13.1]),(11.125,5,[13.3,13.5]),
    (11.375,5,[11.3,11.5]),(11.375,6,[11.7,11.9,12.1,12.3,12.5,12.7,12.9,13.1,13.3]),(11.375,5,[13.5,13.7]),
    (11.625,5,[11.5,11.7]),(11.625,6,[11.9,12.1,12.3,12.5,12.7,12.9,13.1,13.3,13.5]),(11.625,5,[13.7,13.9]),
    (11.875,5,[11.9,12.1,12.3]),(11.875,6,[12.5,12.7,12.9,13.1,13.3,13.5]),(11.875,5,[13.7,13.9,14.1]),
    (12.125,4,[12.0]),(12.125,5,[12.2,12.4,12.6,12.8]),(12.125,6,[13.0,13.2,13.4,13.6,13.8]),(12.125,5,[14.0,14.2]),
    (12.375,4,[12.2]),(12.375,5,[12.6,12.8,13.0,13.2,13.4,13.6,13.8,14.0]),(12.375,4,[14.2,14.4]),
    (12.625,4,[12.6,12.8,13.0]),(12.625,5,[13.2,13.4,13.6,13.8,14.0]),(12.625,4,[14.2,14.4,14.6]),
]

stats = [("MAE = 1.78150", 20.47), ("MSE = 5.25243", 17.95), ("RMSE = 2.29182", 15.36), ("R2 = 0.84342", 12.79)]
lim = 25.65
ticks = [0, 5, 10, 15, 20, 25]
cbar_ticks = [0.005, 0.010, 0.015, 0.020, 0.025, 0.030, 0.035]


def main():
    plt.rcParams["font.family"] = ["Liberation Serif", "DejaVu Serif"]
    plt.rcParams["font.size"] = 12
    plt.rcParams["axes.linewidth"] = 1.5

    W, H = 2350, 1478
    fig = plt.figure(figsize=(W / 200, H / 200), dpi=200)
    ax = fig.add_axes([113 / W, 1 - 1374 / H, (2018 - 113) / W, (1374 - 55) / H])

    xs, ys, cs = [], [], []
    for pts, dens in zip(levels, level_density):
        for px, py in pts:
            xs.append(px)
            ys.append(py)
            cs.append(dens)
    for y, lev, row in rows_low + rows_high + rows_mid:
        for px in row:
            xs.append(px)
            ys.append(y)
            cs.append(level_density[lev])
    xs, ys, cs = np.array(xs), np.array(ys), np.array(cs)
    order = np.argsort(cs, kind="stable")
    ax.scatter(xs[order], ys[order], c=cs[order], s=33, cmap="Spectral_r",
               vmin=0, vmax=0.0366, linewidths=0, zorder=2)

    ax.plot([0, lim], [0, lim], "k--", lw=1.6, label="1:1 line", zorder=3)
    ax.set_xlim(0, lim)
    ax.set_ylim(0, lim)
    ax.set_xticks(ticks)
    ax.set_yticks(ticks)
    ax.set_xlabel("True value")
    ax.set_ylabel("Predicted value")
    ax.set_title("CNN regression", family="DejaVu Sans", fontsize=12)
    ax.legend(loc="upper left")

    for label, y in stats:
        ax.text(0, y, label, fontsize=12)

    cax = fig.add_axes([2137 / W, 1 - 1374 / H, (2203 - 2137) / W, (1374 - 55) / H])
    sm = ScalarMappable(norm=Normalize(DENS_MIN, DENS_MAX), cmap="jet")
    cb = fig.colorbar(sm, cax=cax)
    cb.set_ticks(cbar_ticks)
    cb.set_ticklabels([f"{t:.3f}" for t in cbar_ticks])
    cb.set_label("Density")
    cb.outline.set_linewidth(1.5)

    fig.text(2335 / W, 1 - 1468 / H, "CSDN @_养乐多_", ha="right", va="baseline", fontsize=5.5,
             color="#999999", family=["Noto Sans CJK SC", "DejaVu Sans"])

    fig.savefig("out.png", dpi=200)


if __name__ == "__main__":
    main()
